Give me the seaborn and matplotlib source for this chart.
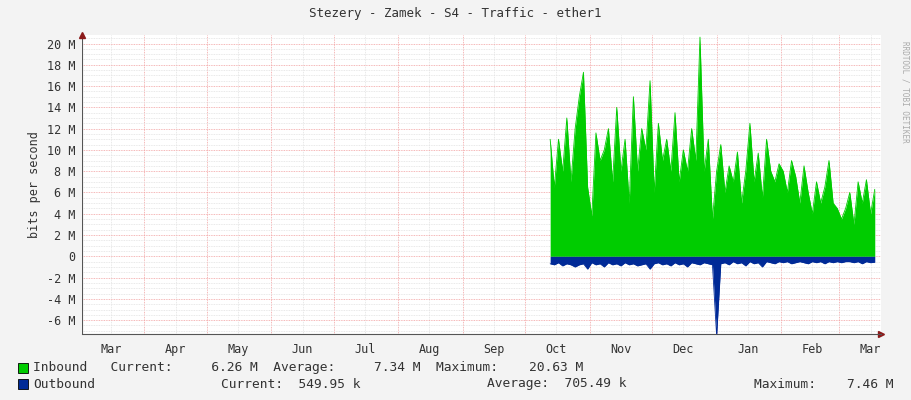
import numpy as np
import pandas as pd
import matplotlib
matplotlib.use('Agg')
from matplotlib import pyplot as plt
import matplotlib.ticker as ticker
import matplotlib.dates as mdates
import seaborn as sns

# DATA (values in Mbit/s, every 2 days from 2014-10-13)
inbound = [11, 6.5, 11, 8, 13, 7, 12, 15, 17.3, 6.5,
           3.8, 11.6, 9, 10, 12, 7, 14, 8, 11, 5, 15, 8, 12, 10, 16.5,
           6, 12.5, 9, 11, 8, 13.5, 7, 10, 8, 12, 9, 20.6, 8, 11, 3.5,
           8, 10.5, 6, 8.5, 7, 9.8, 5, 8, 12.5, 7, 9.7, 5.5, 11, 8, 7, 8.7,
           8, 6, 9, 7.5, 5, 8.5, 6, 4, 7, 5, 6.5, 9, 5, 4.5,
           3.5, 4.5, 6, 3, 7, 5, 7.2, 4, 6.3]
outbound = [0.7, 0.8, 0.6, 0.9, 0.7, 0.8, 1.0, 0.8, 0.7, 1.2,
            0.6, 0.8, 0.7, 1.0, 0.6, 0.8, 0.7, 0.9, 0.6, 0.8, 0.7, 0.9, 0.8, 0.7, 1.2,
            0.7, 0.6, 0.8, 0.7, 0.9, 0.6, 0.8, 0.7, 1.0, 0.6, 0.7, 0.8, 0.6, 0.7, 0.8,
            7.46, 0.7, 0.6, 0.8, 0.5, 0.7, 0.6, 0.9, 0.5, 0.7, 0.6, 1.0, 0.5, 0.6, 0.7, 0.5,
            0.6, 0.5, 0.7, 0.6, 0.5, 0.6, 0.7, 0.5, 0.6, 0.5, 0.7, 0.5, 0.6, 0.5,
            0.6, 0.5, 0.5, 0.6, 0.5, 0.7, 0.5, 0.6, 0.55]
dates = pd.date_range('2014-10-13', periods=len(inbound), freq='2D')
month_labels = ['Mar', 'Apr', 'May', 'Jun', 'Jul', 'Aug', 'Sep', 'Oct',
                'Nov', 'Dec', 'Jan', 'Feb', 'Mar']

df = pd.DataFrame({'date': dates, 'inbound': inbound,
                   'outbound': -np.array(outbound)})

sns.set_style('white')
plt.rcParams['font.family'] = ['DejaVu Sans Mono']

fig = plt.figure(figsize=(9.11, 4), dpi=100, facecolor='#f3f3f3')
ax = fig.add_axes([82/911, 66/400, 799/911, 299/400])
ax.set_facecolor('white')

ax.fill_between(df['date'], 0, df['inbound'], color='#00cc00', linewidth=0, zorder=3)
ax.fill_between(df['date'], 0, df['outbound'], color='#002a97', linewidth=0, zorder=3)
sns.lineplot(x='date', y='inbound', data=df, ax=ax, color='#00cc00', linewidth=0.6, zorder=3)
sns.lineplot(x='date', y='outbound', data=df, ax=ax, color='#002a97', linewidth=0.6, zorder=3)

x0, x1 = pd.Timestamp('2014-03-02'), pd.Timestamp('2015-03-21')
ax.set_xlim(x0, x1)
ax.set_ylim(-7.3, 20.8)

ax.yaxis.set_major_locator(ticker.MultipleLocator(2))
ax.yaxis.set_minor_locator(ticker.MultipleLocator(0.5))
ax.yaxis.set_major_formatter(ticker.FuncFormatter(lambda y, _: '0' if y == 0 else '{:g} M'.format(y)))

month_starts = pd.date_range('2014-03-01', '2015-03-01', freq='MS')
ax.xaxis.set_major_locator(mdates.MonthLocator())
ax.xaxis.set_major_formatter(ticker.NullFormatter())
ax.xaxis.set_minor_locator(mdates.MonthLocator(bymonthday=16))
mids = [m + pd.Timedelta(days=15) for m in month_starts]
for m, lab in zip(mids, month_labels):
    ax.text(m, -0.03, lab, transform=ax.get_xaxis_transform(), ha='center', va='top',
            fontsize=8.5, color='#333333')

ax.grid(which='minor', color='#e2e2e2', linestyle=(0, (1, 1)), linewidth=0.6, zorder=1)
ax.grid(which='major', color='#f2a0a0', linestyle=(0, (1, 1)), linewidth=0.6, zorder=1)
ax.set_axisbelow(True)
ax.tick_params(axis='y', which='major', length=2, labelsize=8.5, colors='#333333', pad=3)
ax.tick_params(axis='x', which='major', length=2, colors='#333333')
ax.tick_params(which='minor', length=0)
for s in ['top', 'right', 'left']:
    ax.spines[s].set_visible(False)
ax.spines['bottom'].set_color('#555555')
ax.axvline(x0, color='#555555', linewidth=0.8)
ax.plot(1, 0, '>', color='#8b1a1a', markersize=4, transform=ax.transAxes, clip_on=False)
ax.plot(0, 1, '^', color='#8b1a1a', markersize=4, transform=ax.transAxes, clip_on=False)

ax.set_xlabel('')
ax.set_ylabel('bits per second', fontsize=8.5, color='#333333', labelpad=4)

fig.text(0.5, 0.965, 'Stezery - Zamek - S4 - Traffic - ether1', ha='center', va='center',
         fontsize=9, color='#333333')
fig.text(0.993, 0.77, 'RRDTOOL / TOBI OETIKER', rotation=270, ha='center', va='center',
         fontsize=5.5, color='#aaaaaa')

# legend
fig.patches.append(plt.Rectangle((18/911, 1 - 373/400), 10/911, 10/400, transform=fig.transFigure,
                                 facecolor='#00cc00', edgecolor='black', linewidth=0.6))
fig.patches.append(plt.Rectangle((18/911, 1 - 389/400), 10/911, 10/400, transform=fig.transFigure,
                                 facecolor='#002a97', edgecolor='black', linewidth=0.6))
kw = dict(fontsize=9.3, color='#333333', va='center')
fig.text(33/911, 1 - 368/400, 'Inbound   Current:     6.26 M  Average:     7.34 M  Maximum:    20.63 M', **kw)
fig.text(33/911, 1 - 384/400, 'Outbound', **kw)
fig.text(221/911, 1 - 384/400, 'Current:  549.95 k', **kw)
fig.text(487/911, 1 - 384/400, 'Average:  705.49 k', **kw)
fig.text(893/911, 1 - 384/400, 'Maximum:    7.46 M', ha='right', fontsize=9.3, color='#333333', va='center')

fig.savefig('out.png', dpi=100, facecolor=fig.get_facecolor())
plt.close()
